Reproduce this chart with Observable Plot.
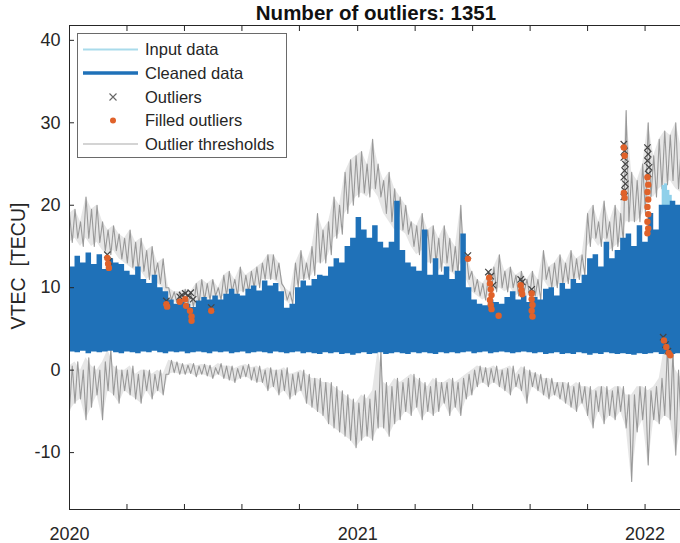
<!DOCTYPE html>
<html>
<head>
<meta charset="utf-8">
<script src="https://cdn.jsdelivr.net/npm/d3@7"></script>
<script src="https://cdn.jsdelivr.net/npm/@observablehq/plot@0.6"></script>
<style>
  html, body { margin: 0; padding: 0; background: #fff; overflow: hidden; }
  #chart { width: 680px; height: 543px; }
</style>
</head>
<body>
<div id="chart"></div>
<script>
// ---------------- DATA (weekly samples starting 2020-01-01) ----------------
const startDate = "2020-01-01";
const stepDays = 7;

// daily maximum of cleaned VTEC (top of the blue band)
const cleanedTop = [
  12.5,13.8,13.0,14.2,12.8,14.0,12.2,13.5,13.0,12.8,
  12.0,11.5,12.5,11.0,10.5,11.5,10.0,9.5,8.5,8.0,
  8.2,8.0,7.6,8.4,8.8,8.5,9.0,8.5,9.2,9.8,
  9.2,9.0,9.8,10.2,9.6,10.8,10.2,10.5,9.5,7.5,
  8.0,10.0,10.8,10.2,11.0,11.5,11.4,12.5,13.5,13.0,
  15.0,16.0,18.5,17.0,16.0,17.5,15.5,14.8,15.5,20.5,
  14.5,13.0,12.5,12.0,17.0,11.5,13.5,11.5,12.5,11.0,
  12.0,16.5,10.0,8.5,8.0,7.8,8.5,8.2,8.0,8.8,
  9.5,8.5,9.0,8.2,8.8,8.5,9.8,10.0,9.0,10.5,
  9.8,11.0,10.5,11.5,13.5,14.0,12.5,15.5,13.5,14.5,
  16.0,16.5,15.0,17.5,15.5,19.0,17.0,20.0,20.0,20.5,
  20.0,19.5
];
// daily minimum of cleaned VTEC (bottom of the blue band)
const cleanedBottom = [
  2.2,2.1,2.3,2.0,2.2,2.1,2.2,2.3,2.1,2.0,
  2.2,2.1,2.0,2.2,2.1,2.3,2.1,2.0,2.2,2.1,
  2.2,2.0,2.1,2.2,2.1,2.0,2.2,2.1,2.2,2.0,
  2.1,2.2,2.0,2.1,2.2,2.1,2.0,2.2,2.1,2.0,
  2.1,2.2,2.0,2.1,2.0,1.9,2.1,2.0,2.1,1.9,
  2.0,1.8,2.0,2.1,1.9,2.0,2.1,1.9,2.0,2.1,
  2.0,1.9,2.1,2.0,2.1,2.0,1.9,2.1,2.0,2.1,
  2.0,2.1,2.2,2.0,2.1,2.2,2.0,2.1,2.2,2.1,
  2.0,2.1,2.2,2.1,2.0,2.1,1.9,2.0,2.1,1.9,
  2.0,1.9,2.1,2.0,1.8,2.0,1.9,2.1,2.0,1.9,
  2.0,1.9,1.8,2.0,1.9,2.0,2.1,1.9,2.0,1.9,
  2.0,1.9
];
// upper outlier threshold: weekly high / low swing
const upperThrHigh = [
  19,19.5,18,21,19.5,20,18,17,17.5,16.5,
  16,17,15.5,16,14.5,15,13,13.5,10,9.5,
  9.5,9.8,9.5,10.5,11,10.5,11,10,11.5,12,
  11,12.5,11.5,12,12.5,13,14,14,13,10,
  9.5,13,14.5,13,15,19,17,18,21,20,
  24,25.5,26,26.5,25,28,25,23,24,22,
  21,20,18,17.5,19,17,17.5,16,17.5,16,
  15,20,14,12,11,10.5,11.5,12.5,14,12,
  12.5,11.5,12,11,12,11,14.5,12.5,13,14,
  13,14.5,13.5,14,19,20,18,20.5,18,20,
  19,31.5,24,23,25,30,26,28,29,28.5,
  30,27
];
const upperThrLow = [
  15.5,16,15,16,15,15.5,14.5,14,14.5,13.5,
  13,12.5,12,12,11,11.5,10.5,10,8.5,8.2,
  8,8,7.6,8,8.5,8.5,9,8.5,9,9.5,
  9,9.5,9.5,10,10,11,11,11,10.5,8.5,
  8,10,11,11,11.5,13,13,14,16,16.5,
  19,20,21,21.5,21,22,21,19,18,17,
  17,16.5,15,14,14.5,13,13,12,13,12,
  11.5,13,11,9.5,9,8.5,9,9.5,10,9.5,
  10,9,9.5,9,9,8.5,11,10,10,10.5,
  10.5,11,11,11.5,15,16,15,16,14.5,15,
  15.5,18,18,18,19,21,21,22,22.5,23,
  22,21.5
];
// lower outlier threshold: weekly high / low swing
const lowerThrHigh = [
  0.5,1,0,1.5,0.5,0,1,2.5,0.5,0,
  0,0.5,-0.5,0,0,-0.5,0,-0.5,1.2,1,
  0.8,0.6,0.8,0.5,0.7,0.6,0.3,0.8,0.5,0.5,
  0.2,0.5,0.7,0.3,0.5,0,0.3,0,0,0.3,
  -0.5,-0.3,0,-0.5,-1,-1,-1.5,-1.5,-2,-2.5,
  -3,-3.5,-4,-3,-3.5,-2.5,2.5,-1.5,-2,-1,
  -1.5,-1,-0.5,-1,-1.5,-2,-1,-1.5,-1.5,-1,
  -1.5,-1,-0.5,0,0.5,0.3,0.2,0.5,0,0.2,
  0.5,-0.5,0.4,0,-0.3,-0.5,-1,-1,-1.5,-1.5,
  -1.5,-2,-1.5,-2,-2,-2.5,-2,-2,-2.5,-2,
  -2,-3,-3,-2,-2,-2.5,-2,-1,3,2.5,
  0,-1
];
const lowerThrLow = [
  -5,-4,-3.5,-6,-4.5,-3,-6,-2.5,-3,-4,
  -2.5,-3,-3.5,-4,-2.5,-3.5,-2.5,-3,-0.5,-0.3,
  -0.5,-0.5,-0.4,-0.8,-0.5,-0.7,-1,-0.5,-1,-1.2,
  -1.5,-1,-0.8,-1.2,-1.5,-1.5,-2.5,-2,-3,-2.5,
  -3.5,-3,-2.5,-4,-4.5,-5,-5.5,-6.5,-7,-7.5,
  -8,-8.5,-9.4,-8.5,-8,-8.5,-7,-7,-8,-6.5,
  -6,-5,-5.5,-4.5,-6,-5,-5.5,-5,-4,-5.5,
  -4.5,-5.5,-3.5,-3,-2,-1.5,-2,-1.5,-2,-2.5,
  -3,-2,-2.5,-4,-2,-2.5,-3,-3.5,-3,-3.5,
  -4,-4.5,-5,-4,-5.5,-7,-5,-6.5,-5.5,-6,
  -5,-7,-13.5,-7.5,-6,-11.5,-6,-6.5,-5.5,-6,
  -10.3,-7
];
// input data visible above the cleaned data
const inputSpikeDates  = ["2022-01-24","2022-01-27","2022-01-30","2022-02-02"];
const inputSpikeValues = [22.4,22.6,21.8,21.2];

// detected outliers (x markers)
const outlierDates = [
  "2020-02-18","2020-02-20",
  "2020-05-03","2020-05-20","2020-05-23","2020-05-27","2020-05-31","2020-06-03","2020-06-06","2020-06-29",
  "2021-05-21",
  "2021-06-16","2021-06-19","2021-06-22",
  "2021-07-27","2021-07-29","2021-08-10",
  "2021-12-05","2021-12-06","2021-12-05","2021-12-07","2021-12-06","2021-12-05","2021-12-07","2021-12-06","2021-12-05",
  "2022-01-04","2022-01-05","2022-01-04","2022-01-06","2022-01-05",
  "2022-01-24","2022-01-27","2022-01-30"
];
const outlierValues = [
  14.0,13.2,
  8.4,8.9,9.1,9.3,9.0,9.4,8.6,7.6,
  13.9,
  11.9,11.4,10.3,
  11.0,10.7,9.8,
  27.4,26.6,25.8,25.0,24.2,23.4,22.6,21.8,21.0,
  27.0,26.2,25.4,24.6,23.8,
  4.0,3.1,2.3
];
// filled outliers (orange dots)
const filledDates = [
  "2020-02-18","2020-02-19","2020-02-20",
  "2020-05-03","2020-05-04","2020-05-20","2020-05-27","2020-05-28","2020-06-02","2020-06-04","2020-06-04","2020-06-29",
  "2021-05-21",
  "2021-06-17","2021-06-18","2021-06-19","2021-06-20","2021-06-18","2021-06-19","2021-06-20","2021-06-29",
  "2021-07-27","2021-07-28","2021-07-29","2021-08-10","2021-08-10","2021-08-11","2021-08-10","2021-08-11",
  "2021-12-05","2021-12-06","2021-12-05","2021-12-06",
  "2022-01-04","2022-01-05","2022-01-04","2022-01-05","2022-01-04","2022-01-05","2022-01-04","2022-01-05","2022-01-04",
  "2022-01-25","2022-01-28","2022-01-31","2022-02-02"
];
const filledValues = [
  13.6,12.9,12.4,
  8.0,7.7,8.3,8.6,7.8,7.2,6.5,6.0,7.2,
  13.5,
  11.2,10.5,9.8,9.1,8.5,7.9,7.4,6.6,
  10.3,9.7,9.2,9.3,8.6,7.9,7.2,6.5,
  27.0,26.0,21.5,20.9,
  23.4,22.5,21.6,20.7,19.8,18.9,18.0,17.2,16.6,
  3.6,2.8,2.1,1.8
];

// axes
const xTickDates  = ["2020-01-01","2020-03-14","2020-05-26","2020-08-07","2020-10-19",
                     "2021-01-01","2021-03-15","2021-05-27","2021-08-08","2021-10-20","2022-01-01"];
const xTickLabels = ["2020","","","","","2021","","","","","2022"];
const yTicks = [-10, 0, 10, 20, 30, 40];
const xDomain = ["2020-01-01", "2022-02-15"];
const yDomain = [-16.9, 41.8];

const titleText = "Number of outliers: 1351";
const yLabel = "VTEC  [TECU]";
const legendLabels = ["Input data", "Cleaned data", "Outliers", "Filled outliers", "Outlier thresholds"];

// ---------------- BUILD ----------------
const DAY = 864e5;
const t0 = new Date(startDate).getTime();
const tAt = (i, off = 0) => new Date(t0 + (i * stepDays + off) * DAY);

const weeks = cleanedTop.map((v, i) => ({ t: tAt(i), top: v, b: cleanedBottom[i] }));
const upperBand = upperThrHigh.map((h, i) => ({ t: tAt(i), hi: h, lo: upperThrLow[i] }));
const lowerBand = lowerThrHigh.map((h, i) => ({ t: tAt(i), hi: h, lo: lowerThrLow[i] }));
const upperZig = upperThrHigh.flatMap((h, i) => [{ t: tAt(i), v: h }, { t: tAt(i, 3.5), v: upperThrLow[i] }]);
const lowerZig = lowerThrLow.flatMap((l, i) => [{ t: tAt(i), v: l }, { t: tAt(i, 3.5), v: lowerThrHigh[i] }]);
const inputSpikes = inputSpikeDates.map((d, i) => ({ t: new Date(d), v: inputSpikeValues[i] }));
const outliers = outlierDates.map((d, i) => ({ t: new Date(d), v: outlierValues[i] }));
const filled = filledDates.map((d, i) => ({ t: new Date(d), v: filledValues[i] }));
const xTicks = xTickDates.map(d => new Date(d));
const labelByDate = new Map(xTickDates.map((d, i) => [d, xTickLabels[i]]));
const fmtISO = d3.utcFormat("%Y-%m-%d");

const AX = "#262626";
const BLUE = "#1f71b8";
const LIGHTBLUE = "#8fd0ea";
const GRAY = "#999999";
const ORANGE = "#e0622a";
const FONT = "'Liberation Sans', Arial, Helvetica, sans-serif";

const plot = Plot.plot({
  width: 680,
  height: 543,
  marginLeft: 69,
  marginRight: 0,
  marginTop: 25,
  marginBottom: 34,
  style: { fontFamily: FONT, color: AX, background: "#fff", overflow: "visible" },
  x: { type: "utc", domain: xDomain.map(d => new Date(d)) },
  y: { domain: yDomain },
  marks: [
    Plot.areaY(upperBand, { x: "t", y1: "lo", y2: "hi", curve: "linear", fill: "#c8c8c8", fillOpacity: 0.45, clip: true }),
    Plot.areaY(lowerBand, { x: "t", y1: "lo", y2: "hi", curve: "linear", fill: "#c8c8c8", fillOpacity: 0.45, clip: true }),
    Plot.line(upperZig, { x: "t", y: "v", stroke: GRAY, strokeWidth: 1.1, clip: true }),
    Plot.line(lowerZig, { x: "t", y: "v", stroke: GRAY, strokeWidth: 1.1, clip: true }),
    Plot.ruleX(inputSpikes, { x: "t", y1: 2, y2: "v", stroke: LIGHTBLUE, strokeWidth: 3, clip: true }),
    Plot.areaY(weeks, { x: "t", y1: "b", y2: "top", curve: "step-after", fill: BLUE, clip: true }),
    Plot.dot(outliers, { x: "t", y: "v", symbol: "times", r: 3, stroke: "#444", strokeWidth: 1.2, clip: true }),
    Plot.dot(filled, { x: "t", y: "v", r: 3.2, fill: ORANGE, stroke: "none", clip: true }),
    // frame lines
    Plot.ruleY([yDomain[0]], { stroke: AX, strokeWidth: 1 }),
    Plot.ruleY([yDomain[1]], { stroke: AX, strokeWidth: 1 }),
    Plot.ruleX([new Date(xDomain[0])], { stroke: AX, strokeWidth: 1 }),
    // ticks (inward)
    Plot.axisY({ ticks: yTicks, tickSize: -5, fill: "none", stroke: AX, label: null }),
    Plot.axisY({ ticks: yTicks, tickSize: 0, tickPadding: 9, fontSize: 18, fill: AX, label: null,
                 tickFormat: d => String(d) }),
    Plot.axisX({ ticks: xTicks, tickSize: -5, fill: "none", stroke: AX, label: null }),
    Plot.axisX({ anchor: "top", ticks: xTicks, tickSize: -5, fill: "none", stroke: AX, label: null }),
    Plot.axisX({ ticks: xTicks, tickSize: 0, tickPadding: 18, fontSize: 18, fill: AX, label: null,
                 tickFormat: d => labelByDate.get(fmtISO(d)) ?? "" })
  ]
});

document.getElementById("chart").appendChild(plot);

// title, y label and legend drawn into the same SVG
const svg = d3.select(plot);
svg.append("text")
  .attr("x", 376).attr("y", 20)
  .attr("text-anchor", "middle")
  .attr("font-family", FONT).attr("font-size", 20.5).attr("font-weight", "bold")
  .attr("fill", "#111")
  .text(titleText);

svg.append("text")
  .attr("transform", "translate(25,266) rotate(-90)")
  .attr("text-anchor", "middle")
  .attr("font-family", FONT).attr("font-size", 19.5).attr("fill", AX)
  .style("white-space", "pre")
  .text(yLabel);

const lg = svg.append("g").attr("text-anchor", "start");
lg.append("rect").attr("x", 77.5).attr("y", 33.5).attr("width", 209).attr("height", 124)
  .attr("fill", "#fff").attr("stroke", "#6a6a6a").attr("stroke-width", 1);
const rowY = [49.5, 73, 97, 120.5, 144];
const sx1 = 83, sx2 = 138, sxm = 113;
lg.append("line").attr("x1", sx1).attr("x2", sx2).attr("y1", rowY[0]).attr("y2", rowY[0])
  .attr("stroke", "#a9dbeb").attr("stroke-width", 2);
lg.append("line").attr("x1", sx1).attr("x2", sx2).attr("y1", rowY[1]).attr("y2", rowY[1])
  .attr("stroke", BLUE).attr("stroke-width", 3.5);
lg.append("path").attr("d", `M${sxm-3.5},${rowY[2]-3.5}L${sxm+3.5},${rowY[2]+3.5}M${sxm-3.5},${rowY[2]+3.5}L${sxm+3.5},${rowY[2]-3.5}`)
  .attr("stroke", "#666").attr("stroke-width", 1.1).attr("fill", "none");
lg.append("circle").attr("cx", sxm).attr("cy", rowY[3]).attr("r", 3).attr("fill", ORANGE);
lg.append("line").attr("x1", sx1).attr("x2", sx2).attr("y1", rowY[4]).attr("y2", rowY[4])
  .attr("stroke", "#c6c6c6").attr("stroke-width", 1.5);
legendLabels.forEach((s, i) => {
  lg.append("text").attr("x", 145).attr("y", rowY[i]).attr("dy", "0.35em")
    .attr("text-anchor", "start")
    .attr("font-family", FONT).attr("font-size", 16.5).attr("fill", AX).text(s);
});
</script>
</body>
</html>
